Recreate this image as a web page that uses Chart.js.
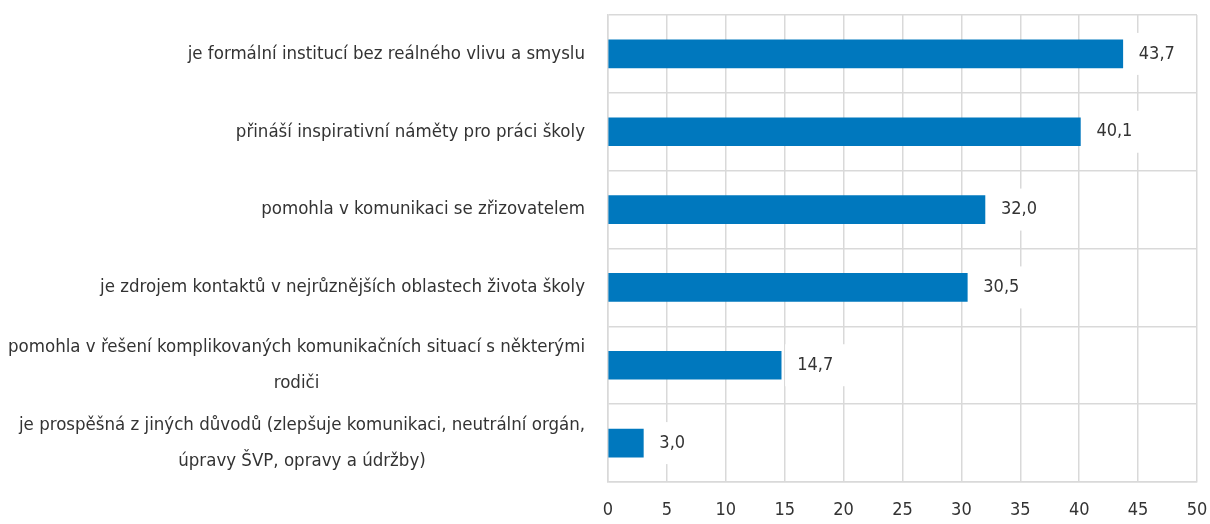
<!DOCTYPE html>
<html><head><meta charset="utf-8">
<script src="https://cdn.jsdelivr.net/npm/chart.js@4/dist/chart.umd.min.js"></script>
<style>html,body{margin:0;padding:0;background:#fff}</style>
</head><body>
<canvas id="c" width="1210" height="524"></canvas>
<script>
const categories = [
  ["je formální institucí bez reálného vlivu a smyslu"],
  ["přináší inspirativní náměty pro práci školy"],
  ["pomohla v komunikaci se zřizovatelem"],
  ["je zdrojem kontaktů v nejrůznějších oblastech života školy"],
  ["pomohla v řešení komplikovaných komunikačních situací s některými", "rodiči"],
  ["je prospěšná z jiných důvodů (zlepšuje komunikaci, neutrální orgán,", "úpravy ŠVP, opravy a údržby)"]
];
const values = [43.7, 40.1, 32.0, 30.5, 14.7, 3.0];
const valueLabels = ["43,7", "40,1", "32,0", "30,5", "14,7", "3,0"];
const xTickValues = [0, 5, 10, 15, 20, 25, 30, 35, 40, 45, 50];

const FONT = '"Liberation Sans Narrow", "DejaVu Sans Condensed", "Roboto Condensed", "Liberation Sans", sans-serif';
const TEXT = '#333333';
const GRID = '#d9d9d9';

const catLabelPlugin = {
  id: 'catLabels',
  afterDraw(chart) {
    const ctx = chart.ctx, ys = chart.scales.y;
    ctx.save();
    ctx.font = '18.5px ' + FONT;
    ctx.fillStyle = TEXT;
    ctx.textAlign = 'center';
    ctx.textBaseline = 'middle';
    const right = chart.chartArea.left - 23;
    categories.forEach((lines, i) => {
      const y = ys.getPixelForValue(i);
      const maxW = Math.max(...lines.map(l => ctx.measureText(l).width));
      const cx = right - maxW / 2;
      const lh = 36;
      lines.forEach((l, j) => {
        ctx.fillText(l, cx, y + (j - (lines.length - 1) / 2) * lh);
      });
    });
    ctx.restore();
  }
};

const valueLabelPlugin = {
  id: 'valueLabels',
  afterDatasetsDraw(chart) {
    const ctx = chart.ctx;
    const meta = chart.getDatasetMeta(0);
    ctx.save();
    ctx.font = '18px ' + FONT;
    ctx.textBaseline = 'middle';
    ctx.textAlign = 'left';
    meta.data.forEach((bar, i) => {
      const t = valueLabels[i];
      const w = ctx.measureText(t).width;
      ctx.fillStyle = '#ffffff';
      ctx.fillRect(bar.x + 4, bar.y - 21, w + 24, 42);
      ctx.fillStyle = TEXT;
      ctx.fillText(t, bar.x + 16, bar.y);
    });
    ctx.restore();
  }
};

new Chart(document.getElementById('c'), {
  type: 'bar',
  data: {
    labels: categories,
    datasets: [{
      data: values,
      backgroundColor: '#0078BE',
      barThickness: 28
    }]
  },
  options: {
    indexAxis: 'y',
    responsive: false,
    animation: false,
    events: [],
    layout: { padding: { top: 15, right: 0, bottom: 0, left: 0 } },
    plugins: { legend: { display: false }, tooltip: { enabled: false } },
    scales: {
      x: {
        min: 0, max: 50,
        afterBuildTicks(s) { s.ticks = xTickValues.map(v => ({ value: v })); },
        afterFit(s) { s.height = 42; s.paddingRight = 13; s.paddingLeft = 0; },
        ticks: { font: { family: FONT, size: 18 }, color: TEXT, padding: 18 },
        grid: { color: GRID, lineWidth: 1.5, drawTicks: false },
        border: { display: true, color: GRID, width: 1.5 }
      },
      y: {
        afterFit(s) { s.width = 608; },
        ticks: { display: false },
        grid: { color: GRID, lineWidth: 1.5, drawTicks: false, offset: true },
        border: { display: true, color: GRID, width: 1.5 }
      }
    }
  },
  plugins: [catLabelPlugin, valueLabelPlugin]
});
</script>
</body></html>
